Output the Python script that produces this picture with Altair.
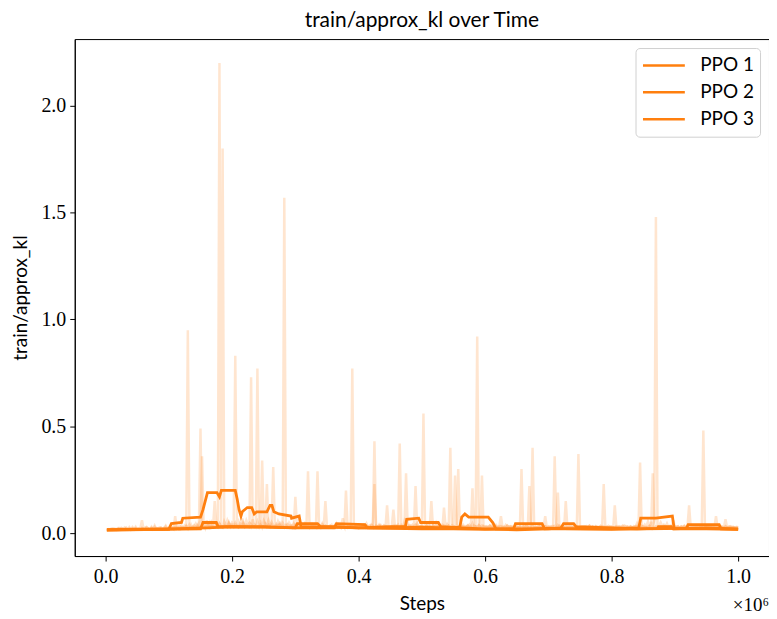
import altair as alt
import pandas as pd

ORANGE = "#ff7f0e"
RUNS = ["PPO 1", "PPO 2", "PPO 3"]

# raw approx_kl (in thousandths), logged every 0.0025 x10^6 steps (0.0025 ... 1.0)
STEP_SIZE = 0.0025

RAW_PPO1 = [
    15, 17, 16, 19, 18, 21, 17, 20, 24, 18, 22, 19, 26, 17, 21, 20, 23, 18, 30, 19,
    22, 18, 25, 20, 19, 28, 21, 17, 24, 20, 35, 19, 22, 18, 26, 21, 20, 30, 18, 23,
    21, 25, 19, 80, 22, 30, 20, 27, 24, 35, 21, 950, 28, 40, 25, 33, 45, 30, 26, 490,
    30, 42, 25, 60, 35, 28, 50, 32, 45, 38, 55, 2200, 40, 1800, 48, 35, 60, 42, 30, 50,
    45, 830, 38, 55, 30, 70, 42, 35, 60, 40, 48, 33, 65, 38, 45, 770, 40, 52, 30, 58,
    42, 35, 60, 38, 45, 310, 40, 32, 55, 36, 48, 30, 1570, 42, 35, 50, 38, 28, 45, 33,
    40, 30, 52, 35, 28, 45, 32, 38, 26, 42, 30, 35, 28, 290, 33, 25, 40, 30, 36, 27,
    32, 28, 38, 25, 30, 45, 27, 33, 24, 36, 28, 30, 25, 40, 28, 32, 26, 35, 30, 24,
    30, 26, 38, 28, 45, 30, 25, 35, 28, 430, 32, 27, 40, 30, 25, 36, 28, 33, 26, 30,
    28, 35, 26, 30, 40, 28, 32, 25, 55, 30, 26, 34, 28, 38, 25, 30, 45, 28, 32, 26,
    560, 30, 28, 40, 32, 26, 35, 30, 48, 28, 32, 25, 38, 30, 27, 42, 30, 26, 35, 28,
    32, 26, 300, 35, 28, 40, 30, 25, 36, 30, 27, 45, 28, 32, 25, 38, 30, 26, 34, 28,
    30, 25, 35, 28, 26, 40, 30, 24, 33, 28, 30, 26, 38, 27, 30, 25, 32, 28, 24, 30,
    26, 32, 28, 25, 35, 27, 30, 220, 28, 32, 25, 30, 27, 35, 26, 30, 24, 32, 28, 26,
    30, 25, 33, 28, 26, 38, 30, 24, 32, 27, 30, 25, 35, 28, 26, 30, 24, 33, 370, 28,
    30, 26, 32, 25, 28, 35, 27, 30, 24, 32, 28, 26, 34, 27, 30, 25, 31, 28, 26, 30,
    28, 25, 32, 27, 30, 26, 35, 28, 24, 31, 27, 30, 25, 33, 28, 45, 30, 26, 35, 28,
    40, 32, 55, 35, 48, 38, 60, 1480, 42, 35, 50, 33, 40, 30, 45, 28, 35, 30, 26, 32,
    28, 32, 25, 30, 27, 35, 28, 24, 32, 27, 30, 26, 34, 28, 25, 30, 27, 480, 30, 26,
    32, 27, 30, 25, 35, 28, 26, 31, 27, 30, 25, 33, 28, 26, 30, 24, 28, 26, 25, 24,
]

RAW_PPO2 = [
    16, 19, 17, 22, 18, 15, 20, 24, 17, 21, 19, 26, 18, 20, 23, 17, 28, 19, 22, 20,
    18, 24, 60, 20, 19, 27, 22, 18, 25, 21, 30, 19, 23, 20, 26, 18, 24, 35, 20, 22,
    25, 20, 28, 22, 30, 24, 19, 35, 26, 22, 32, 25, 40, 28, 24, 36, 30, 26, 45, 30,
    360, 35, 28, 42, 30, 50, 33, 38, 150, 40, 32, 45, 35, 28, 55, 38, 30, 48, 36, 42,
    35, 50, 38, 30, 45, 36, 55, 32, 40, 35, 48, 730, 38, 42, 30, 55, 35, 40, 340, 36,
    45, 30, 40, 35, 52, 38, 30, 44, 36, 40, 32, 48, 35, 30, 42, 36, 30, 38, 33, 170,
    35, 30, 42, 33, 28, 38, 32, 290, 30, 36, 28, 40, 32, 26, 35, 30, 45, 28, 33, 30,
    28, 35, 30, 26, 38, 32, 28, 34, 30, 40, 27, 200, 32, 28, 35, 770, 30, 26, 38, 32,
    28, 34, 30, 25, 36, 30, 28, 40, 32, 26, 35, 30, 28, 38, 30, 25, 33, 28, 30, 26,
    32, 28, 36, 30, 26, 420, 32, 28, 35, 30, 26, 38, 30, 28, 34, 220, 30, 26, 32, 28,
    30, 26, 35, 28, 32, 25, 38, 30, 27, 33, 28, 30, 26, 36, 28, 32, 30, 400, 28, 34,
    30, 26, 32, 28, 35, 30, 25, 33, 28, 40, 30, 26, 35, 28, 920, 32, 28, 36, 30, 26,
    32, 28, 35, 26, 30, 28, 38, 30, 25, 33, 28, 30, 26, 35, 28, 32, 25, 30, 28, 26,
    30, 28, 300, 32, 26, 35, 28, 30, 25, 33, 28, 30, 26, 34, 28, 30, 25, 32, 28, 30,
    26, 32, 28, 360, 30, 26, 35, 28, 30, 25, 33, 28, 30, 26, 34, 28, 25, 30, 28, 26,
    30, 28, 25, 33, 28, 30, 26, 32, 28, 25, 30, 28, 33, 26, 230, 30, 28, 25, 32, 28,
    26, 30, 28, 25, 32, 28, 30, 26, 33, 28, 25, 30, 28, 26, 32, 28, 30, 330, 28, 26,
    30, 28, 25, 33, 28, 30, 26, 32, 28, 25, 30, 28, 26, 33, 28, 30, 25, 32, 28, 26,
    30, 28, 25, 32, 28, 30, 26, 33, 130, 28, 30, 25, 32, 28, 26, 30, 28, 25, 32, 28,
    26, 30, 28, 25, 32, 28, 30, 26, 33, 28, 25, 30, 28, 26, 32, 28, 30, 25, 28, 26,
]

RAW_PPO3 = [
    14, 17, 20, 16, 22, 18, 15, 21, 19, 25, 17, 20, 23, 18, 28, 16, 21, 19, 24, 18,
    20, 17, 23, 19, 26, 18, 22, 20, 30, 17, 21, 24, 19, 27, 20, 18, 25, 22, 19, 28,
    22, 26, 20, 30, 24, 19, 32, 22, 27, 25, 35, 21, 28, 24, 30, 26, 22, 38, 25, 29,
    32, 26, 30, 28, 40, 25, 34, 30, 27, 36, 28, 45, 30, 26, 38, 32, 28, 50, 30, 35,
    28, 40, 32, 26, 35, 30, 45, 28, 34, 30, 26, 42, 32, 28, 36, 30, 25, 40, 32, 28,
    35, 230, 30, 26, 40, 32, 28, 36, 30, 45, 28, 34, 26, 38, 30, 28, 35, 30, 26, 40,
    32, 28, 35, 26, 30, 38, 28, 33, 26, 30, 42, 28, 32, 26, 35, 30, 28, 36, 150, 30,
    26, 34, 28, 30, 38, 26, 32, 28, 35, 70, 30, 26, 33, 28, 40, 30, 26, 32, 28, 35,
    28, 32, 26, 38, 30, 28, 35, 26, 30, 230, 32, 28, 36, 30, 26, 34, 28, 130, 30, 26,
    32, 110, 28, 35, 30, 26, 38, 30, 28, 280, 32, 26, 35, 28, 30, 40, 28, 32, 26, 34,
    30, 26, 35, 28, 32, 150, 30, 26, 38, 28, 32, 30, 26, 120, 30, 28, 35, 30, 26, 32,
    270, 30, 28, 35, 26, 32, 30, 28, 36, 26, 30, 210, 28, 32, 26, 35, 30, 270, 28, 32,
    26, 30, 28, 35, 26, 32, 30, 28, 34, 80, 28, 30, 26, 35, 28, 32, 26, 30, 28, 34,
    26, 30, 28, 32, 26, 35, 28, 30, 26, 400, 32, 28, 30, 26, 34, 28, 30, 80, 26, 32,
    28, 30, 26, 34, 28, 190, 30, 26, 32, 28, 150, 30, 26, 34, 28, 30, 26, 32, 28, 30,
    26, 32, 28, 30, 26, 35, 28, 30, 26, 33, 28, 30, 26, 32, 28, 30, 26, 34, 28, 30,
    26, 130, 28, 32, 26, 30, 28, 35, 26, 30, 28, 32, 26, 30, 28, 34, 26, 30, 28, 32,
    26, 30, 28, 35, 26, 280, 30, 28, 32, 26, 30, 28, 34, 26, 30, 28, 32, 26, 60, 30,
    28, 32, 26, 30, 28, 34, 26, 30, 28, 32, 26, 30, 28, 35, 26, 30, 28, 32, 26, 30,
    28, 32, 26, 30, 28, 80, 26, 32, 28, 30, 26, 65, 28, 32, 26, 30, 28, 26, 30, 28,
]

# smoothed curves (x in units of 10^6 steps)
SMOOTH_PPO1_X = [0.002, 0.100, 0.104, 0.120, 0.122, 0.150, 0.154, 0.161, 0.176, 0.180, 0.183, 0.205, 0.208, 0.211, 0.214, 0.216,
                 0.224, 0.231, 0.235, 0.239, 0.255, 0.260, 0.263, 0.266, 0.274, 0.293, 0.294, 0.306, 0.309, 0.350, 0.400, 0.450,
                 0.500, 0.550, 0.600, 0.650, 0.700, 0.750, 0.800, 0.843, 0.846, 0.870, 0.896, 0.899, 0.950, 1.000]
SMOOTH_PPO1_Y = [0.015, 0.018, 0.045, 0.050, 0.070, 0.075, 0.110, 0.190, 0.190, 0.170, 0.200, 0.200, 0.160, 0.110, 0.080, 0.100,
                 0.120, 0.120, 0.090, 0.100, 0.100, 0.130, 0.130, 0.100, 0.090, 0.080, 0.070, 0.080, 0.030, 0.028, 0.025, 0.022,
                 0.020, 0.020, 0.018, 0.020, 0.022, 0.020, 0.020, 0.025, 0.070, 0.070, 0.080, 0.020, 0.020, 0.018]

SMOOTH_PPO2_X = [0.002, 0.150, 0.154, 0.175, 0.178, 0.250, 0.300, 0.303, 0.335, 0.340, 0.360, 0.400, 0.450, 0.474, 0.476, 0.495,
                 0.498, 0.526, 0.530, 0.560, 0.600, 0.645, 0.648, 0.690, 0.694, 0.750, 0.800, 0.850, 0.918, 0.921, 0.970, 0.973, 1.000]
SMOOTH_PPO2_Y = [0.014, 0.020, 0.050, 0.050, 0.030, 0.030, 0.025, 0.045, 0.045, 0.030, 0.030, 0.025, 0.030, 0.030, 0.065, 0.070,
                 0.050, 0.050, 0.030, 0.025, 0.020, 0.020, 0.045, 0.045, 0.020, 0.020, 0.018, 0.020, 0.022, 0.040, 0.040, 0.020, 0.018]

SMOOTH_PPO3_X = [0.002, 0.100, 0.160, 0.200, 0.250, 0.300, 0.362, 0.365, 0.410, 0.414, 0.450, 0.500, 0.540, 0.560, 0.563, 0.568,
                 0.574, 0.605, 0.612, 0.617, 0.650, 0.700, 0.720, 0.724, 0.740, 0.744, 0.800, 0.840, 0.872, 0.874, 0.894, 0.897, 0.950, 1.000]
SMOOTH_PPO3_Y = [0.016, 0.020, 0.025, 0.030, 0.028, 0.025, 0.025, 0.045, 0.040, 0.025, 0.025, 0.028, 0.025, 0.028, 0.075, 0.090,
                 0.075, 0.075, 0.050, 0.020, 0.015, 0.020, 0.025, 0.045, 0.045, 0.030, 0.025, 0.020, 0.022, 0.030, 0.030, 0.020, 0.025, 0.020]

X_TICKS = [0.0, 0.2, 0.4, 0.6, 0.8, 1.0]
Y_TICKS = [0.0, 0.5, 1.0, 1.5, 2.0]

raw_rows = []
for run, vals in zip(RUNS, [RAW_PPO1, RAW_PPO2, RAW_PPO3]):
    for i, v in enumerate(vals):
        raw_rows.append({"run": run, "step": STEP_SIZE * (i + 1), "value": v / 1000.0, "order": i})
raw_df = pd.DataFrame(raw_rows)

sm_rows = []
for run, xs, ys in zip(RUNS, [SMOOTH_PPO1_X, SMOOTH_PPO2_X, SMOOTH_PPO3_X],
                       [SMOOTH_PPO1_Y, SMOOTH_PPO2_Y, SMOOTH_PPO3_Y]):
    for i, (x, y) in enumerate(zip(xs, ys)):
        sm_rows.append({"run": run, "step": x, "value": y, "order": i})
sm_df = pd.DataFrame(sm_rows)

W, H = 697, 519
SERIF = "Liberation Serif"
SANS = "Lato"

x_scale = alt.Scale(domain=[-0.0488, 1.0488], nice=False, zero=False)
y_scale = alt.Scale(domain=[-0.107, 2.312], nice=False, zero=False)

x_axis = alt.Axis(values=X_TICKS, format=".1f", title="Steps", grid=False,
                  tickSize=5, labelPadding=6, labelFont=SERIF, labelFontSize=20,
                  titleFont=SANS, titleFontSize=19, titleFontWeight="normal",
                  titlePadding=8, domainColor="black", tickColor="black",
                  labelColor="black", titleColor="black")
y_axis = alt.Axis(values=Y_TICKS, format=".1f", title="train/approx_kl", grid=False,
                  tickSize=5, labelPadding=4, labelFont=SERIF, labelFontSize=20,
                  titleFont=SANS, titleFontSize=19, titleFontWeight="normal",
                  titlePadding=10, domainColor="black", tickColor="black",
                  labelColor="black", titleColor="black")

raw = alt.Chart(raw_df).mark_line(strokeWidth=2.5, opacity=0.2, clip=True, color=ORANGE).encode(
    x=alt.X("step:Q", scale=x_scale, axis=x_axis),
    y=alt.Y("value:Q", scale=y_scale, axis=y_axis),
    detail="run:N",
    order="order:Q",
)

smooth = alt.Chart(sm_df).mark_line(strokeWidth=2.8, clip=True).encode(
    x=alt.X("step:Q", scale=x_scale),
    y=alt.Y("value:Q", scale=y_scale),
    color=alt.Color("run:N", scale=alt.Scale(domain=RUNS, range=[ORANGE] * 3),
                    legend=alt.Legend(title=None, orient="top-right", offset=9,
                                      labelFont=SANS, labelFontSize=19, labelColor="black",
                                      symbolType="stroke", symbolStrokeWidth=2.5,
                                      symbolSize=1764, strokeColor="#d0d0d0",
                                      fillColor="white", padding=6, cornerRadius=4,
                                      clipHeight=23, rowPadding=4, labelOffset=14)),
    order="order:Q",
)

mult = alt.Chart(pd.DataFrame({"t": ["×10⁶"]})).mark_text(
    align="right", baseline="middle", font=SERIF, fontSize=19, color="black"
).encode(text="t:N", x=alt.value(W), y=alt.value(H + 49))

chart = alt.layer(raw, smooth, mult).properties(
    width=W, height=H,
    title=alt.TitleParams("train/approx_kl over Time", font=SANS, fontSize=21,
                          fontWeight="normal", color="black", offset=8),
    autosize=alt.AutoSizeParams(type="none"),
    padding={"left": 67, "top": 30, "right": 0, "bottom": 60},
).configure_view(stroke="black", strokeWidth=1).configure_axis(domainWidth=1, tickWidth=1)

chart.save("out.html", embed_options={"renderer": "svg", "actions": False})
